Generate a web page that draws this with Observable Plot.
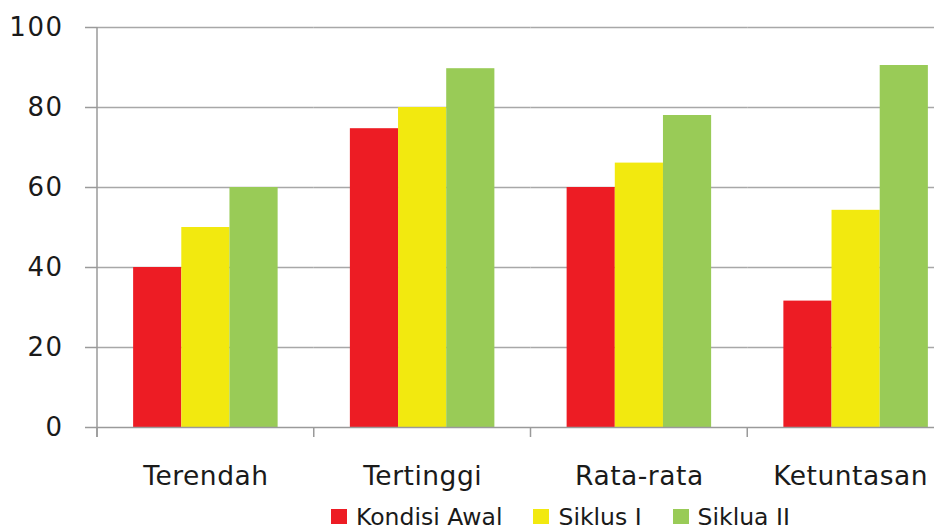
<!DOCTYPE html>
<html><head><meta charset="utf-8">
<script src="https://cdn.jsdelivr.net/npm/d3@7"></script>
<script src="https://cdn.jsdelivr.net/npm/@observablehq/plot@0.6"></script>
<style>
html,body{margin:0;padding:0;background:#fff;overflow:hidden;}
#wrap{width:934px;height:529px;overflow:hidden;position:relative;background:#fff;}
#wrap svg{display:block;max-width:none !important;width:964px;height:497px;}
.legend{position:absolute;left:331px;top:497px;height:39px;display:flex;align-items:center;font-family:"DejaVu Sans";font-size:23.5px;color:#1a1a1a;white-space:nowrap;}
.legend .item{display:flex;align-items:center;margin-right:31px;}
.legend .sw{width:16px;height:15px;margin-right:9px;}
.fxlab text{letter-spacing:0.5px;}
.ylab text{letter-spacing:1.5px;}
</style></head>
<body><div id="wrap"></div>
<script>
const categories = ["Terendah", "Tertinggi", "Rata-rata", "Ketuntasan"];
const seriesNames = ["Kondisi Awal", "Siklus I", "Siklua II"];
const kondisiAwal = [40, 74.7, 60, 31.6];
const siklusI = [50, 80, 66.1, 54.3];
const sikluaII = [60, 89.7, 78, 90.5];
const yTicks = [0, 20, 40, 60, 80, 100];
const colors = ["#ED1C24", "#F2E90F", "#99CB57"];

const seriesValues = [kondisiAwal, siklusI, sikluaII];
const data = categories.flatMap((c, i) => seriesNames.map((s, j) => ({category: c, series: s, value: seriesValues[j][i]})));

const plot = Plot.plot({
  width: 964, height: 497,
  marginLeft: 97, marginRight: 0, marginTop: 27, marginBottom: 70,
  style: {fontFamily: "DejaVu Sans", fontSize: "26px", color: "#1a1a1a", background: "#fff", maxWidth: "none"},
  fx: {domain: categories, padding: 0, round: false, label: null, axis: null},
  x: {domain: seriesNames, paddingInner: 0, paddingOuter: 0.75, round: false, axis: null},
  y: {domain: [0, 100], label: null, axis: null},
  color: {domain: seriesNames, range: colors},
  marks: [
    Plot.ruleY(yTicks.slice(1), {stroke: "#a8a8a8", strokeWidth: 1.5}),
    Plot.barY(data, {fx: "category", x: "series", y: "value", fill: "series"}),
    Plot.ruleY([0], {stroke: "#9a9a9a", strokeWidth: 1.5}),
    Plot.axisY({ticks: yTicks, tickSize: 12, tickPadding: 22, stroke: "#9a9a9a", strokeWidth: 1.5, label: null, fontSize: 26, fill: "#1a1a1a", className: "ylab"}),
    Plot.axisFx({anchor: "bottom", tickSize: 0, tickPadding: 39, label: null, fontSize: 26.5, fill: "#1a1a1a", className: "fxlab"})
  ]
});

// axis line and category boundary ticks from the library's scales
const fx = plot.scale("fx"), y = plot.scale("y");
const svg = d3.select(plot);
const y0 = y.apply(0), yTop = y.apply(100);
const bounds = categories.map(c => fx.apply(c)).concat([fx.apply(categories[categories.length - 1]) + fx.bandwidth]);
const g = svg.append("g").attr("stroke", "#9a9a9a").attr("stroke-width", 1.5);
g.append("line").attr("x1", bounds[0]).attr("x2", bounds[0]).attr("y1", yTop).attr("y2", y0 + 10);
bounds.forEach(b => g.append("line").attr("x1", b).attr("x2", b).attr("y1", y0).attr("y2", y0 + 10));

const wrap = document.getElementById("wrap");
wrap.appendChild(plot);

// keep category labels inside the visible area (as the original chart does)
const visibleRight = 928;
svg.selectAll(".fxlab text").each(function() {
  const b = this.getBBox();
  const ctm = this.getCTM();
  const right = (ctm ? ctm.e : 0) + b.x + b.width;
  if (right > visibleRight) {
    const shift = right - visibleRight;
    const prev = this.getAttribute("transform") || "";
    this.setAttribute("transform", prev + ` translate(${-shift},0)`);
  }
});

const legend = document.createElement("div");
legend.className = "legend";
seriesNames.forEach((s, i) => {
  const item = document.createElement("div");
  item.className = "item";
  const sw = document.createElement("span");
  sw.className = "sw";
  sw.style.background = colors[i];
  const t = document.createElement("span");
  t.textContent = s;
  item.appendChild(sw); item.appendChild(t);
  legend.appendChild(item);
});
wrap.appendChild(legend);
</script>
</body></html>
